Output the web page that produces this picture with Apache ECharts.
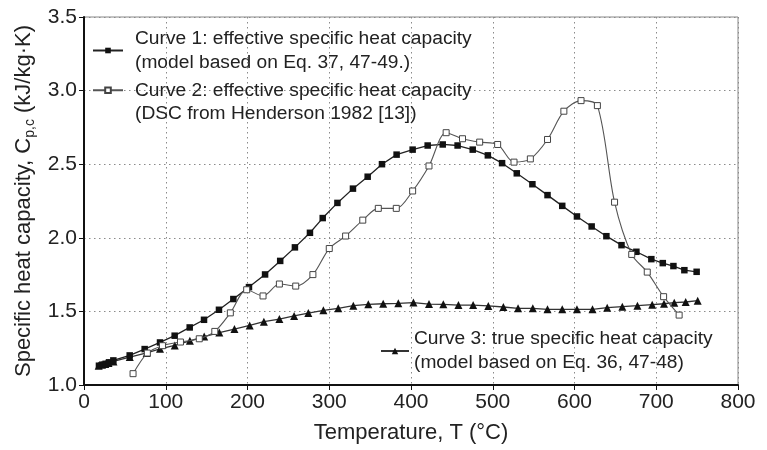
<!DOCTYPE html>
<html>
<head>
<meta charset="utf-8">
<script src="https://cdn.jsdelivr.net/npm/echarts@6/dist/echarts.min.js"></script>
<style>html,body{margin:0;padding:0;background:#fff}#c{width:767px;height:450px}</style>
</head>
<body>
<div id="c"></div>
<script>
// Curve 1: effective specific heat capacity (model)
const temp1 = [18.3, 22.4, 26.5, 30.6, 35.9, 55.9, 74.2, 93, 110.9, 129.3, 146.8, 165.1, 182.7, 201.8, 221.5, 240, 258, 276.4, 292, 310, 329, 347, 364.5, 382.4, 402, 420.4, 438.8, 457, 475.5, 494, 511.4, 529.4, 548.5, 567, 585, 603, 621, 639, 657.5, 675.7, 694, 708, 721, 734.4, 749.4];
const cp1 = [1.131, 1.138, 1.144, 1.154, 1.167, 1.201, 1.244, 1.289, 1.335, 1.391, 1.443, 1.511, 1.584, 1.665, 1.751, 1.843, 1.935, 2.034, 2.134, 2.237, 2.334, 2.415, 2.5, 2.565, 2.599, 2.627, 2.634, 2.627, 2.599, 2.56, 2.507, 2.438, 2.364, 2.29, 2.217, 2.145, 2.077, 2.011, 1.95, 1.905, 1.855, 1.828, 1.808, 1.78, 1.769];
// Curve 2: effective specific heat capacity (DSC, Henderson 1982)
const temp2 = [60, 77.5, 96, 118, 141, 160, 179, 199, 219, 239, 259, 280, 300, 320, 341, 360, 382, 402, 422, 443, 463, 484, 506, 526, 546, 567, 587, 608, 628, 649, 670, 689, 709, 728];
const cp2 = [1.077, 1.217, 1.267, 1.292, 1.314, 1.364, 1.49, 1.647, 1.605, 1.686, 1.672, 1.75, 1.927, 2.012, 2.12, 2.2, 2.2, 2.318, 2.488, 2.714, 2.673, 2.65, 2.634, 2.514, 2.536, 2.668, 2.86, 2.932, 2.898, 2.242, 1.887, 1.767, 1.6, 1.475];
// Curve 3: true specific heat capacity (model)
const temp3 = [18, 22, 26, 30, 36, 56, 76.7, 93, 111, 129.5, 147, 165.5, 184, 202.7, 220, 239, 257, 274.4, 292.8, 311, 329.4, 347.8, 366, 384.5, 403, 422, 439.5, 458, 476, 494.6, 513, 531, 549, 567, 585, 603, 622, 640, 658.5, 677, 695, 709.5, 722, 736, 750.7];
const cp3 = [1.13, 1.137, 1.143, 1.15, 1.16, 1.19, 1.218, 1.246, 1.269, 1.3, 1.329, 1.356, 1.38, 1.405, 1.43, 1.448, 1.469, 1.489, 1.507, 1.521, 1.539, 1.548, 1.552, 1.555, 1.56, 1.55, 1.548, 1.543, 1.543, 1.537, 1.53, 1.521, 1.521, 1.514, 1.514, 1.514, 1.514, 1.525, 1.532, 1.539, 1.546, 1.552, 1.559, 1.564, 1.573];

const name1 = 'Curve 1: effective specific heat capacity\n(model based on Eq. 37, 47-49.)';
const name2 = 'Curve 2: effective specific heat capacity\n(DSC from Henderson 1982 [13])';
const name3 = 'Curve 3: true specific heat capacity\n(model based on Eq. 36, 47-48)';
const xTicks = [0, 100, 200, 300, 400, 500, 600, 700, 800];
const yTicks = [1.0, 1.5, 2.0, 2.5, 3.0, 3.5];

const FONT = '"Liberation Sans", Arial, sans-serif';
const pairs = (xs, ys) => xs.map((x, i) => [x, ys[i]]);

const chart = echarts.init(document.getElementById('c'), null, {renderer: 'canvas'});
const legendText = {fontFamily: FONT, fontSize: 19.2, color: '#222', lineHeight: 23.5};
chart.setOption({
  animation: false,
  backgroundColor: '#fff',
  grid: {left: 84, right: 29, top: 17, bottom: 65, show: true, borderColor: '#888', borderWidth: 1, backgroundColor: 'transparent'},
  legend: [
    {data: [name1], left: 92, top: 27, padding: 0, itemWidth: 30, itemHeight: 7,
     textStyle: Object.assign({padding: [0, 0, 0, 7]}, legendText)},
    {data: [name2], left: 92, top: 55, padding: 0, itemWidth: 30, itemHeight: 7,
     formatter: n => ' \n' + n,
     textStyle: Object.assign({padding: [0, 0, 0, 7]}, legendText)},
    {data: [name3], left: 380, top: 327, padding: 0, itemWidth: 28, itemHeight: 8,
     textStyle: Object.assign({}, legendText, {lineHeight: 24})}
  ],
  xAxis: {
    type: 'value', min: xTicks[0], max: xTicks[xTicks.length - 1], interval: 100,
    name: 'Temperature, T (°C)', nameLocation: 'middle', nameGap: 37,
    nameTextStyle: {fontFamily: FONT, fontSize: 22, color: '#222'},
    axisLine: {show: true, onZero: false, lineStyle: {color: '#111', width: 2}},
    axisTick: {show: true, inside: false, length: 5, lineStyle: {color: '#111', width: 1}},
    axisLabel: {fontFamily: FONT, fontSize: 21, color: '#222', margin: 7},
    splitLine: {show: true, lineStyle: {color: '#8a8a8a', width: 1, type: [1.5, 3.5]}}
  },
  yAxis: {
    type: 'value', min: yTicks[0], max: yTicks[yTicks.length - 1], interval: 0.5,
    name: '{a|Specific heat capacity, C}{s|p,c}{a| (kJ/kg·K)}', nameLocation: 'middle', nameGap: 42,
    nameTextStyle: {fontFamily: FONT, fontSize: 22, color: '#222',
      rich: {a: {fontFamily: FONT, fontSize: 22, color: '#222'},
             s: {fontFamily: FONT, fontSize: 14, color: '#222', padding: [12, 0, 0, 0]}}},
    axisLine: {show: true, onZero: false, lineStyle: {color: '#111', width: 2}},
    axisTick: {show: true, inside: false, length: 5, lineStyle: {color: '#111', width: 1}},
    axisLabel: {fontFamily: FONT, fontSize: 21, color: '#222', margin: 7, formatter: v => v.toFixed(1)},
    splitLine: {show: true, lineStyle: {color: '#8a8a8a', width: 1, type: [1.5, 3.5]}}
  },
  series: [
    {name: name3, type: 'line', data: pairs(temp3, cp3), symbol: 'triangle', symbolSize: 8,
     lineStyle: {color: '#333', width: 1.3}, itemStyle: {color: '#111', borderColor: '#111', borderWidth: 0}, z: 2},
    {name: name1, type: 'line', data: pairs(temp1, cp1), symbol: 'rect', symbolSize: 6.5,
     lineStyle: {color: '#222', width: 1.3}, itemStyle: {color: '#111', borderColor: '#111', borderWidth: 0}, z: 3},
    {name: name2, type: 'line', data: pairs(temp2, cp2), smooth: 0.3, symbol: 'rect', symbolSize: 6,
     lineStyle: {color: '#555', width: 1.1}, itemStyle: {color: '#fff', borderColor: '#444', borderWidth: 1}, z: 4}
  ]
});
</script>
</body>
</html>
